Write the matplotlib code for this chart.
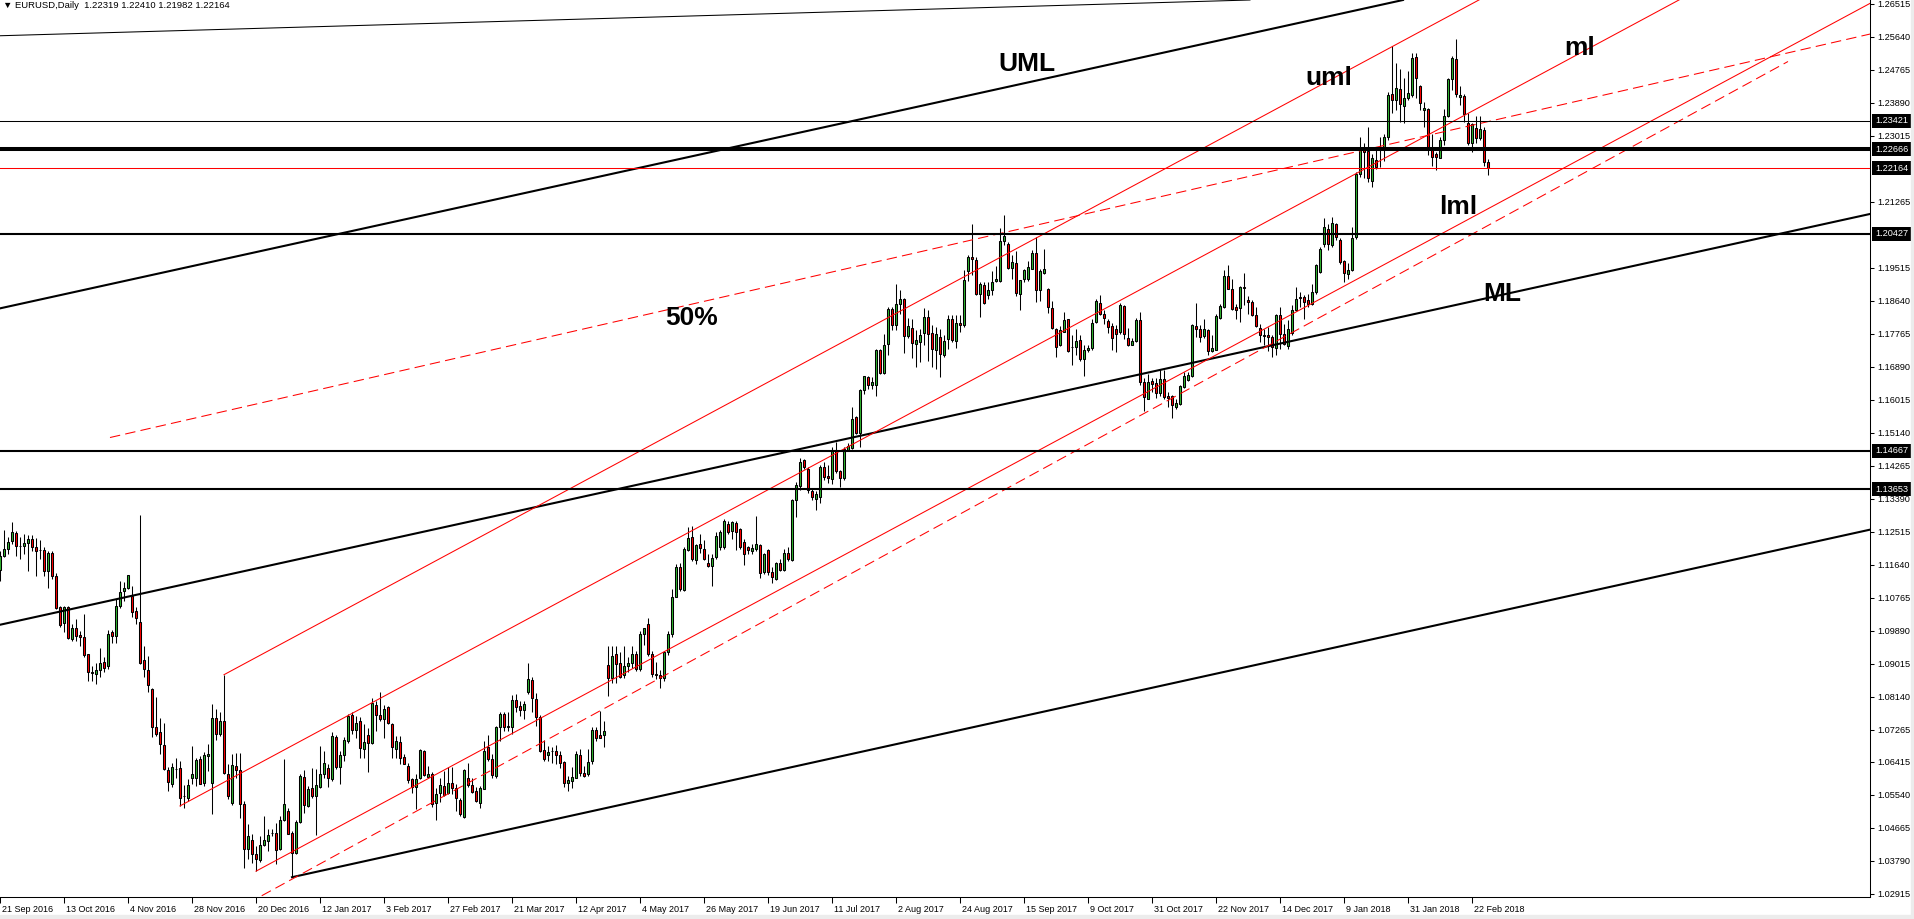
import numpy as np
import matplotlib
matplotlib.use("Agg")
import matplotlib.pyplot as plt
from matplotlib.patches import Rectangle
from matplotlib.transforms import ScaledTranslation

# EURUSD daily candles, bar 0 = 21 Sep 2016 ... bar 372 = current bar
opens = [
    1.1151, 1.1188, 1.1206, 1.1227, 1.1249, 1.1215, 1.1215, 1.1221, 1.1233, 1.1211,
    1.1204, 1.1204, 1.1147, 1.1197, 1.1136, 1.1053, 1.1009, 1.1053, 1.0967, 1.0997,
    1.0979, 1.0972, 1.0927, 1.0879, 1.0876, 1.0885, 1.0907, 1.0895, 1.0985, 1.0975,
    1.1055, 1.1094, 1.1103, 1.1082, 1.1042, 1.1014, 1.0912, 1.0885, 1.0835, 1.0735,
    1.0721, 1.0687, 1.0621, 1.0584, 1.0624, 1.0625, 1.0551, 1.0547, 1.0600, 1.0600,
    1.0649, 1.0587, 1.0657, 1.0587, 1.0759, 1.0717, 1.0750, 1.0609, 1.0534, 1.0631,
    1.0621, 1.0529, 1.0410, 1.0434, 1.0398, 1.0381, 1.0421, 1.0432, 1.0454, 1.0454,
    1.0410, 1.0487, 1.0512, 1.0452, 1.0401, 1.0483, 1.0601, 1.0525, 1.0572, 1.0550,
    1.0575, 1.0609, 1.0625, 1.0596, 1.0708, 1.0627, 1.0659, 1.0696, 1.0766, 1.0726,
    1.0749, 1.0675, 1.0713, 1.0691, 1.0793, 1.0766, 1.0755, 1.0788, 1.0743, 1.0675,
    1.0695, 1.0655, 1.0631, 1.0596, 1.0575, 1.0598, 1.0671, 1.0602, 1.0609, 1.0534,
    1.0558, 1.0578, 1.0558, 1.0585, 1.0572, 1.0542, 1.0496, 1.0600, 1.0581, 1.0565,
    1.0534, 1.0571, 1.0680, 1.0650, 1.0604, 1.0733, 1.0768, 1.0735, 1.0735, 1.0805,
    1.0790, 1.0780, 1.0826, 1.0858, 1.0808, 1.0762, 1.0673, 1.0659, 1.0671, 1.0671,
    1.0659, 1.0642, 1.0585, 1.0591, 1.0600, 1.0660, 1.0612, 1.0609, 1.0644, 1.0727,
    1.0713, 1.0713, 1.0899, 1.0865, 1.0927, 1.0903,
    1.0873, 1.0895, 1.0903, 1.0928, 1.0887, 1.0982, 1.1008, 1.0927, 1.0875, 1.0872,
    1.0864, 1.0932, 1.0981,
    1.1080, 1.1159, 1.1097, 1.1204, 1.1239, 1.1178, 1.1220, 1.1206, 1.1168, 1.1162,
    1.1184, 1.1211, 1.1211, 1.1273, 1.1255, 1.1275, 1.1259, 1.1224, 1.1211, 1.1202,
    1.1206, 1.1217, 1.1144, 1.1204, 1.1146, 1.1127, 1.1168, 1.1151, 1.1195, 1.1178,
    1.1335, 1.1374, 1.1441, 1.1419, 1.1361, 1.1338, 1.1345, 1.1423, 1.1400, 1.1392,
    1.1469, 1.1412, 1.1394, 1.1469, 1.1474, 1.1556, 1.1513, 1.1627, 1.1662, 1.1640,
    1.1642, 1.1735, 1.1674, 1.1751, 1.1844, 1.1799, 1.1855, 1.1870, 1.1770, 1.1793,
    1.1751, 1.1755, 1.1780, 1.1821, 1.1779,
    1.1733, 1.1768, 1.1720, 1.1762, 1.1815, 1.1758,
    1.1806, 1.1799, 1.1944, 1.1980, 1.1972, 1.1883, 1.1907, 1.1881, 1.1892, 1.1917,
    1.1916, 1.2022, 1.2016, 1.1951, 1.1966, 1.1882, 1.1921, 1.1923, 1.1950, 1.1992,
    1.1894, 1.1939, 1.1897, 1.1845, 1.1790, 1.1748, 1.1783, 1.1815, 1.1742, 1.1742,
    1.1761, 1.1711, 1.1735, 1.1739, 1.1808, 1.1859, 1.1830, 1.1810, 1.1797, 1.1790,
    1.1782, 1.1850, 1.1767, 1.1748, 1.1759, 1.1813, 1.1649, 1.1605, 1.1651, 1.1647,
    1.1620, 1.1656, 1.1613, 1.1613, 1.1582, 1.1591, 1.1635, 1.1655, 1.1665, 1.1797,
    1.1790, 1.1771, 1.1786, 1.1731, 1.1735, 1.1819, 1.1848, 1.1929, 1.1896, 1.1848,
    1.1845,
    1.1902, 1.1866, 1.1861, 1.1826, 1.1793, 1.1773, 1.1775, 1.1768, 1.1740,
    1.1826, 1.1777, 1.1744, 1.1779, 1.1841, 1.1875, 1.1875, 1.1867, 1.1857, 1.1888,
    1.1941, 1.2016, 1.2056, 1.2012, 1.2067, 1.2027, 1.1969, 1.1936, 1.1945, 1.2034,
    1.2200, 1.2266, 1.2262, 1.2183, 1.2237, 1.2264, 1.2264, 1.2298, 1.2412, 1.2397,
    1.2425, 1.2381, 1.2403, 1.2410, 1.2510, 1.2434, 1.2370, 1.2372, 1.2266, 1.2253,
    1.2244, 1.2292, 1.2354, 1.2452, 1.2505, 1.2406, 1.2407, 1.2337, 1.2283, 1.2324,
    1.2295, 1.2318, 1.22319,
]
highs = [
    1.1202, 1.1257, 1.1237, 1.1277, 1.1253, 1.1237, 1.1246, 1.1244, 1.1244, 1.1236,
    1.1230, 1.1211, 1.1202, 1.1202, 1.1142, 1.1056, 1.1056, 1.1056, 1.1007, 1.1020,
    1.0989, 1.1035, 1.0929, 1.0897, 1.0905, 1.0945, 1.0920, 1.0991, 1.0991, 1.1074,
    1.1122, 1.1118, 1.1138, 1.1109, 1.1053, 1.1297, 1.0948, 1.0923, 1.0837, 1.0814,
    1.0758, 1.0746, 1.0627, 1.0640, 1.0652, 1.0643, 1.0581, 1.0596, 1.0684, 1.0651,
    1.0658, 1.0667, 1.0689, 1.0795, 1.0782, 1.0775, 1.0873, 1.0636, 1.0662, 1.0666,
    1.0666, 1.0538, 1.0476, 1.0450, 1.0419, 1.0445, 1.0498, 1.0463, 1.0463, 1.0481,
    1.0498, 1.0649, 1.0520, 1.0458, 1.0487, 1.0609, 1.0620, 1.0578, 1.0625, 1.0622,
    1.0684, 1.0671, 1.0635, 1.0720, 1.0713, 1.0671, 1.0708, 1.0768, 1.0774, 1.0764,
    1.0762, 1.0742, 1.0731, 1.0812, 1.0804, 1.0826, 1.0793, 1.0790, 1.0746, 1.0711,
    1.0711, 1.0664, 1.0640, 1.0600, 1.0609, 1.0675, 1.0673, 1.0631, 1.0616, 1.0573,
    1.0600, 1.0618, 1.0627, 1.0628, 1.0582, 1.0547, 1.0622, 1.0638, 1.0600, 1.0575,
    1.0578, 1.0697, 1.0713, 1.0662, 1.0737, 1.0773, 1.0775, 1.0773, 1.0819, 1.0821,
    1.0804, 1.0804, 1.0904, 1.0868, 1.0824, 1.0766, 1.0699, 1.0684, 1.0681, 1.0687,
    1.0671, 1.0644, 1.0604, 1.0627, 1.0671, 1.0675, 1.0631, 1.0675, 1.0733, 1.0733,
    1.0777, 1.0749, 1.0950, 1.0950, 1.0950, 1.0932,
    1.0950, 1.0920, 1.0950, 1.0935, 1.0990, 1.0998, 1.1023, 1.0935, 1.0906, 1.0885,
    1.0935, 1.0990, 1.1100,
    1.1166, 1.1168, 1.1211, 1.1264, 1.1268, 1.1220, 1.1246, 1.1230, 1.1193, 1.1193,
    1.1251, 1.1257, 1.1286, 1.1281, 1.1281, 1.1280, 1.1262, 1.1233, 1.1215, 1.1220,
    1.1295, 1.1220, 1.1197, 1.1206, 1.1158, 1.1171, 1.1180, 1.1206, 1.1211, 1.1339,
    1.1383, 1.1447, 1.1445, 1.1423, 1.1366, 1.1361, 1.1428, 1.1436, 1.1428, 1.1476,
    1.1489, 1.1416, 1.1478, 1.1487, 1.1582, 1.1558, 1.1631, 1.1666, 1.1664, 1.1662,
    1.1737, 1.1737, 1.1777, 1.1848, 1.1848, 1.1910, 1.1894, 1.1872, 1.1820, 1.1817,
    1.1788, 1.1790, 1.1846, 1.1839, 1.1799,
    1.1795, 1.1790, 1.1773, 1.1828, 1.1826, 1.1826,
    1.1826, 1.1945, 1.1985, 1.2069, 1.1981, 1.1914, 1.1913, 1.1914, 1.1943, 1.1957,
    1.2058, 1.2093, 1.2021, 1.1985, 1.1996, 1.1919, 1.1948, 1.1969, 1.1998, 1.2034,
    1.1948, 1.2003, 1.1898, 1.1863, 1.1792, 1.1797, 1.1835, 1.1817, 1.1773, 1.1789,
    1.1773, 1.1748, 1.1746, 1.1817, 1.1870, 1.1881, 1.1839, 1.1815, 1.1806, 1.1801,
    1.1859, 1.1852, 1.1792, 1.1766, 1.1819, 1.1835, 1.1659, 1.1671, 1.1659, 1.1659,
    1.1684, 1.1680, 1.1622, 1.1615, 1.1605, 1.1642, 1.1675, 1.1675, 1.1804, 1.1859,
    1.1799, 1.1815, 1.1790, 1.1773, 1.1830, 1.1857, 1.1945, 1.1960, 1.1921, 1.1857,
    1.1905,
    1.1938, 1.1876, 1.1866, 1.1848, 1.1804, 1.1790, 1.1795, 1.1773, 1.1830,
    1.1848, 1.1804, 1.1813, 1.1852, 1.1901, 1.1888, 1.1879, 1.1883, 1.1910, 1.1963,
    1.2007, 1.2083, 1.2069, 1.2087, 1.2071, 1.2032, 1.1972, 1.1965, 1.2060, 1.2206,
    1.2299, 1.2282, 1.2326, 1.2253, 1.2264, 1.2299, 1.2308, 1.2419, 1.2540, 1.2496,
    1.2478, 1.2454, 1.2475, 1.2521, 1.2522, 1.2437, 1.2392, 1.2375, 1.2308, 1.2260,
    1.2298, 1.2372, 1.2454, 1.2514, 1.2558, 1.2434, 1.2414, 1.2363, 1.2337, 1.2354,
    1.2354, 1.2326, 1.22410,
]
lows = [
    1.1122, 1.1184, 1.1193, 1.1219, 1.1189, 1.1180, 1.1193, 1.1149, 1.1202, 1.1136,
    1.1180, 1.1136, 1.1103, 1.1127, 1.1047, 1.1000, 1.0985, 1.0967, 1.0963, 1.0963,
    1.0950, 1.0919, 1.0857, 1.0857, 1.0848, 1.0866, 1.0879, 1.0888, 1.0956, 1.0958,
    1.1051, 1.1069, 1.1100, 1.1025, 1.1007, 1.0901, 1.0866, 1.0828, 1.0708, 1.0711,
    1.0662, 1.0620, 1.0565, 1.0574, 1.0600, 1.0525, 1.0520, 1.0538, 1.0582, 1.0578,
    1.0582, 1.0578, 1.0618, 1.0503, 1.0699, 1.0711, 1.0609, 1.0543, 1.0527, 1.0600,
    1.0492, 1.0361, 1.0383, 1.0374, 1.0352, 1.0377, 1.0419, 1.0405, 1.0445, 1.0370,
    1.0407, 1.0485, 1.0450, 1.0336, 1.0398, 1.0481, 1.0507, 1.0522, 1.0547, 1.0448,
    1.0573, 1.0600, 1.0575, 1.0591, 1.0622, 1.0584, 1.0644, 1.0691, 1.0715, 1.0706,
    1.0653, 1.0653, 1.0616, 1.0689, 1.0724, 1.0750, 1.0706, 1.0742, 1.0653, 1.0653,
    1.0635, 1.0635, 1.0587, 1.0558, 1.0516, 1.0596, 1.0604, 1.0598, 1.0522, 1.0489,
    1.0536, 1.0551, 1.0556, 1.0556, 1.0511, 1.0498, 1.0494, 1.0575, 1.0560, 1.0536,
    1.0520, 1.0569, 1.0644, 1.0598, 1.0600, 1.0697, 1.0724, 1.0724, 1.0717, 1.0773,
    1.0764, 1.0755, 1.0821, 1.0773, 1.0737, 1.0669, 1.0644, 1.0644, 1.0640, 1.0635,
    1.0625, 1.0575, 1.0565, 1.0573, 1.0598, 1.0604, 1.0603, 1.0604, 1.0635, 1.0697,
    1.0704, 1.0680, 1.0817, 1.0850, 1.0852, 1.0865,
    1.0865, 1.0880, 1.0890, 1.0882, 1.0882, 1.0952, 1.0923, 1.0867, 1.0862, 1.0839,
    1.0857, 1.0925, 1.0973,
    1.1078, 1.1096, 1.1096, 1.1202, 1.1174, 1.1166, 1.1197, 1.1177, 1.1159, 1.1109,
    1.1180, 1.1204, 1.1206, 1.1246, 1.1233, 1.1204, 1.1206, 1.1165, 1.1193, 1.1193,
    1.1202, 1.1129, 1.1140, 1.1138, 1.1115, 1.1124, 1.1147, 1.1147, 1.1175, 1.1175,
    1.1290, 1.1363, 1.1419, 1.1354, 1.1335, 1.1310, 1.1327, 1.1388, 1.1381, 1.1379,
    1.1407, 1.1370, 1.1390, 1.1466, 1.1472, 1.1512, 1.1476, 1.1618, 1.1631, 1.1631,
    1.1611, 1.1671, 1.1671, 1.1720, 1.1786, 1.1788, 1.1830, 1.1726, 1.1767, 1.1713,
    1.1689, 1.1702, 1.1746, 1.1706, 1.1689,
    1.1684, 1.1662, 1.1715, 1.1737, 1.1755, 1.1739,
    1.1783, 1.1795, 1.1916, 1.1932, 1.1879, 1.1821, 1.1857, 1.1868, 1.1879, 1.1913,
    1.1913, 1.2013, 1.1948, 1.1923, 1.1876, 1.1839, 1.1914, 1.1916, 1.1948, 1.1861,
    1.1863, 1.1936, 1.1833, 1.1790, 1.1715, 1.1744, 1.1782, 1.1728, 1.1693, 1.1720,
    1.1706, 1.1666, 1.1730, 1.1735, 1.1806, 1.1828, 1.1804, 1.1780, 1.1733, 1.1728,
    1.1777, 1.1762, 1.1744, 1.1746, 1.1755, 1.1640, 1.1571, 1.1603, 1.1622, 1.1606,
    1.1613, 1.1603, 1.1582, 1.1553, 1.1578, 1.1589, 1.1633, 1.1653, 1.1662, 1.1768,
    1.1755, 1.1766, 1.1721, 1.1728, 1.1733, 1.1815, 1.1845, 1.1895, 1.1839, 1.1817,
    1.1808,
    1.1852, 1.1830, 1.1823, 1.1795, 1.1755, 1.1746, 1.1731, 1.1715, 1.1722,
    1.1737, 1.1746, 1.1737, 1.1775, 1.1837, 1.1848, 1.1817, 1.1848, 1.1852, 1.1883,
    1.1938, 1.2007, 1.2000, 1.2007, 1.2025, 1.1963, 1.1914, 1.1923, 1.1944, 1.2029,
    1.2193, 1.2189, 1.2180, 1.2165, 1.2215, 1.2220, 1.2236, 1.2291, 1.2363, 1.2370,
    1.2339, 1.2335, 1.2398, 1.2406, 1.2401, 1.2370, 1.2326, 1.2251, 1.2221, 1.2211,
    1.2242, 1.2277, 1.2351, 1.2423, 1.2406, 1.2383, 1.2339, 1.2277, 1.2260, 1.2282,
    1.2291, 1.2221, 1.21982,
]
closes = [
    1.1188, 1.1206, 1.1224, 1.1251, 1.1215, 1.1214, 1.1222, 1.1233, 1.1211, 1.1202,
    1.1203, 1.1149, 1.1197, 1.1136, 1.1051, 1.1005, 1.1053, 1.0970, 1.0997, 1.0976,
    1.0972, 1.0925, 1.0879, 1.0878, 1.0885, 1.0903, 1.0892, 1.0981, 1.0975, 1.1055,
    1.1093, 1.1103, 1.1137, 1.1038, 1.1023, 1.0905, 1.0889, 1.0845, 1.0735, 1.0717,
    1.0689, 1.0622, 1.0589, 1.0627, 1.0623, 1.0547, 1.0550, 1.0581, 1.0609, 1.0648,
    1.0584, 1.0660, 1.0662, 1.0759, 1.0715, 1.0751, 1.0611, 1.0551, 1.0633, 1.0621,
    1.0529, 1.0410, 1.0445, 1.0398, 1.0385, 1.0421, 1.0434, 1.0447, 1.0453, 1.0407,
    1.0487, 1.0531, 1.0451, 1.0401, 1.0483, 1.0604, 1.0527, 1.0569, 1.0550, 1.0581,
    1.0609, 1.0638, 1.0598, 1.0711, 1.0627, 1.0660, 1.0700, 1.0764, 1.0727, 1.0744,
    1.0678, 1.0695, 1.0692, 1.0797, 1.0766, 1.0755, 1.0781, 1.0746, 1.0680, 1.0696,
    1.0653, 1.0637, 1.0593, 1.0575, 1.0596, 1.0673, 1.0607, 1.0609, 1.0531, 1.0556,
    1.0581, 1.0554, 1.0585, 1.0573, 1.0545, 1.0503, 1.0620, 1.0580, 1.0563, 1.0538,
    1.0573, 1.0671, 1.0650, 1.0606, 1.0735, 1.0770, 1.0733, 1.0736, 1.0805, 1.0788,
    1.0779, 1.0795, 1.0861, 1.0812, 1.0762, 1.0671, 1.0649, 1.0669, 1.0670, 1.0659,
    1.0640, 1.0587, 1.0594, 1.0602, 1.0664, 1.0611, 1.0604, 1.0642, 1.0727, 1.0706,
    1.0706, 1.0724, 1.0863, 1.0923, 1.0901, 1.0867,
    1.0895, 1.0903, 1.0928, 1.0887, 1.0982, 1.0996, 1.0927, 1.0875, 1.0872, 1.0864,
    1.0932, 1.0981, 1.1080,
    1.1159, 1.1100, 1.1206, 1.1235, 1.1180, 1.1217, 1.1209, 1.1180, 1.1160, 1.1182,
    1.1242, 1.1251, 1.1281, 1.1252, 1.1277, 1.1252, 1.1211, 1.1193, 1.1204, 1.1209,
    1.1220, 1.1142, 1.1193, 1.1144, 1.1131, 1.1168, 1.1151, 1.1195, 1.1180, 1.1336,
    1.1377, 1.1436, 1.1423, 1.1363, 1.1343, 1.1351, 1.1423, 1.1398, 1.1395, 1.1469,
    1.1412, 1.1394, 1.1472, 1.1479, 1.1551, 1.1514, 1.1628, 1.1664, 1.1640, 1.1649,
    1.1733, 1.1673, 1.1748, 1.1844, 1.1799, 1.1857, 1.1868, 1.1771, 1.1797, 1.1752,
    1.1761, 1.1773, 1.1821, 1.1777, 1.1736,
    1.1777, 1.1724, 1.1759, 1.1815, 1.1761, 1.1806,
    1.1799, 1.1920, 1.1981, 1.1975, 1.1882, 1.1908, 1.1859, 1.1894, 1.1913, 1.1921,
    1.2022, 1.2037, 1.1952, 1.1967, 1.1885, 1.1919, 1.1945, 1.1954, 1.1992, 1.1894,
    1.1943, 1.1948, 1.1848, 1.1793, 1.1742, 1.1786, 1.1814, 1.1731, 1.1741, 1.1759,
    1.1709, 1.1733, 1.1739, 1.1806, 1.1863, 1.1830, 1.1820, 1.1795, 1.1766, 1.1777,
    1.1852, 1.1777, 1.1748, 1.1759, 1.1813, 1.1649, 1.1609, 1.1649, 1.1644, 1.1620,
    1.1658, 1.1609, 1.1607, 1.1587, 1.1594, 1.1638, 1.1664, 1.1667, 1.1799, 1.1790,
    1.1768, 1.1790, 1.1731, 1.1739, 1.1823, 1.1850, 1.1929, 1.1896, 1.1842, 1.1839,
    1.1901,
    1.1898, 1.1861, 1.1826, 1.1797, 1.1773, 1.1772, 1.1768, 1.1742, 1.1826,
    1.1777, 1.1751, 1.1790, 1.1841, 1.1870, 1.1872, 1.1861, 1.1857, 1.1888, 1.1960,
    1.2003, 1.2059, 1.2016, 1.2071, 1.2034, 1.1967, 1.1938, 1.1947, 1.2032, 1.2200,
    1.2268, 1.2260, 1.2189, 1.2244, 1.2218, 1.2268, 1.2298, 1.2410, 1.2397, 1.2430,
    1.2386, 1.2403, 1.2416, 1.2507, 1.2454, 1.2390, 1.2377, 1.2267, 1.2246, 1.2246,
    1.2292, 1.2354, 1.2452, 1.2507, 1.2414, 1.2410, 1.2361, 1.2283, 1.2332, 1.2295,
    1.2319, 1.2233, 1.22164,
]

date_labels = [
    "21 Sep 2016", "13 Oct 2016", "4 Nov 2016", "28 Nov 2016", "20 Dec 2016",
    "12 Jan 2017", "3 Feb 2017", "27 Feb 2017", "21 Mar 2017", "12 Apr 2017",
    "4 May 2017", "26 May 2017", "19 Jun 2017", "11 Jul 2017", "2 Aug 2017",
    "24 Aug 2017", "15 Sep 2017", "9 Oct 2017", "31 Oct 2017", "22 Nov 2017",
    "14 Dec 2017", "9 Jan 2018", "31 Jan 2018", "22 Feb 2018",
]
price_ticks = [
    1.26515, 1.25640, 1.24765, 1.23890, 1.23015, 1.21265, 1.19515, 1.18640,
    1.17765, 1.16890, 1.16015, 1.15140, 1.14265, 1.13390, 1.12515, 1.11640,
    1.10765, 1.09890, 1.09015, 1.08140, 1.07265, 1.06415, 1.05540, 1.04665,
    1.03790, 1.02915,
]

# horizontal levels: price, colour, width (pt)
levels = [
    (1.23421, "black", 0.75),
    (1.22666, "black", 2.9),
    (1.22164, "red", 0.75),
    (1.20427, "black", 1.5),
    (1.14667, "black", 1.5),
    (1.13653, "black", 1.5),
]

# trend lines as two anchor points (bar, price)
black_full = [
    ((0, 1.25673), (312.5, 1.26621), 0.75),  # thin upper line
    ((0, 1.18444), (350.75, 1.26621), 1.5),  # UML
    ((0, 1.10054), (467.5, 1.20947), 1.5),   # ML
]
black_lml = ((73, 1.0336), (467.5, 1.12576))
red_rays = [
    ((56, 1.0873), (370, 1.26637)),   # uml
    ((45, 1.0525), (370, 1.23785)),   # ml
    ((64, 1.0352), (370, 1.20971)),   # lml
]
red_half = ((27.5, 1.15019), (467.5, 1.25718))
red_warning = ((62, 1.0267), (447, 1.2499))

line_labels = [
    ("UML", 249.5, 1.24736),
    ("uml", 326.25, 1.24364),
    ("ml", 391.0, 1.25161),
    ("lml", 359.75, 1.20939),
    ("ML", 370.75, 1.18630),
    ("50%", 166.25, 1.18011),
]

BULL = "#2fb52f"
BEAR = "#ff0000"
FONT = ["Liberation Sans", "DejaVu Sans"]
plt.rcParams["font.family"] = FONT

W, H = 1915, 919
fig = plt.figure(figsize=(W / 100, H / 100), dpi=100)
ax = fig.add_axes([0, 22 / H, 1870 / W, 897 / H])

o = np.array(opens)
h = np.array(highs)
l = np.array(lows)
c = np.array(closes)
x = np.arange(len(o))
up = c >= o

ax.vlines(x, l, h, color="black", lw=0.75, zorder=2)
ax.bar(x[up], c[up] - o[up], bottom=o[up], width=0.5, color=BULL,
       edgecolor="black", lw=0.75, zorder=2.5)
ax.bar(x[~up], o[~up] - c[~up], bottom=c[~up], width=0.5, color=BEAR,
       edgecolor="black", lw=0.75, zorder=2.5)


def ray(p0, p1, x_end=470):
    k = (p1[1] - p0[1]) / (p1[0] - p0[0])
    return [p0[0], x_end], [p0[1], p0[1] + k * (x_end - p0[0])]


for p0, p1, lw in black_full:
    ax.axline(p0, p1, color="black", lw=lw, zorder=3)
xs, ys = ray(*black_lml)
ax.plot(xs, ys, color="black", lw=1.5, zorder=3)

for p0, p1 in red_rays:
    xs, ys = ray(p0, p1)
    ax.plot(xs, ys, color="red", lw=0.75, zorder=3)
xs, ys = ray(*red_half)
ax.plot(xs, ys, color="red", lw=0.75, ls=(0, (10, 5)), zorder=3)
ax.plot([red_warning[0][0], red_warning[1][0]], [red_warning[0][1], red_warning[1][1]],
        color="red", lw=0.75, ls=(0, (10, 5)), zorder=3)

for v, col, lw in levels:
    ax.axhline(v, color=col, lw=lw, zorder=3)

for txt, bx, py in line_labels:
    ax.text(bx, py, txt, fontsize=19, fontweight="bold", ha="left",
            va="baseline", color="black", zorder=4)

ax.set_xlim(0, 467.5)
ax.set_ylim(1.02835, 1.26621)

# price scale on the right
ax.yaxis.tick_right()
ax.set_yticks(price_ticks, labels=[f"{v:.5f}" for v in price_ticks])
ax.tick_params(axis="y", direction="out", length=3, width=0.75, pad=2,
               labelsize=6.6, colors="black")
for v, col, lw in levels:
    ax.annotate(f"{v:.5f}", xy=(1, v), xycoords=ax.get_yaxis_transform(),
                xytext=(5, 0), textcoords="offset pixels", ha="left", va="center",
                fontsize=6.6, color="white", annotation_clip=False,
                bbox=dict(boxstyle="square,pad=0.28", fc="black", ec="none"))

# time scale
ax.set_xticks([16 * i for i in range(len(date_labels))], labels=date_labels)
ax.tick_params(axis="x", direction="out", length=4, width=0.75, pad=2,
               labelsize=6.5, colors="black")
shift = ScaledTranslation(2 / 100, 0, fig.dpi_scale_trans)
for lbl in ax.get_xticklabels():
    lbl.set_ha("left")
    lbl.set_transform(lbl.get_transform() + shift)

for side in ("left", "top"):
    ax.spines[side].set_visible(False)
for side in ("right", "bottom"):
    ax.spines[side].set_linewidth(0.75)

fig.text(3 / W, 1 - 6 / H,
         "\u25bc EURUSD,Daily  %.5f %.5f %.5f %.5f" % (opens[-1], highs[-1], lows[-1], closes[-1]),
         fontsize=6.8, va="center", ha="left", family=FONT)

fig.patches.append(Rectangle((0, 0), 1, 4 / H, transform=fig.transFigure,
                             color="#ececec", zorder=0))
fig.patches.append(Rectangle((1 - 4 / W, 0), 4 / W, 1, transform=fig.transFigure,
                             color="#ececec", zorder=0))

fig.savefig("out.png", dpi=100)
